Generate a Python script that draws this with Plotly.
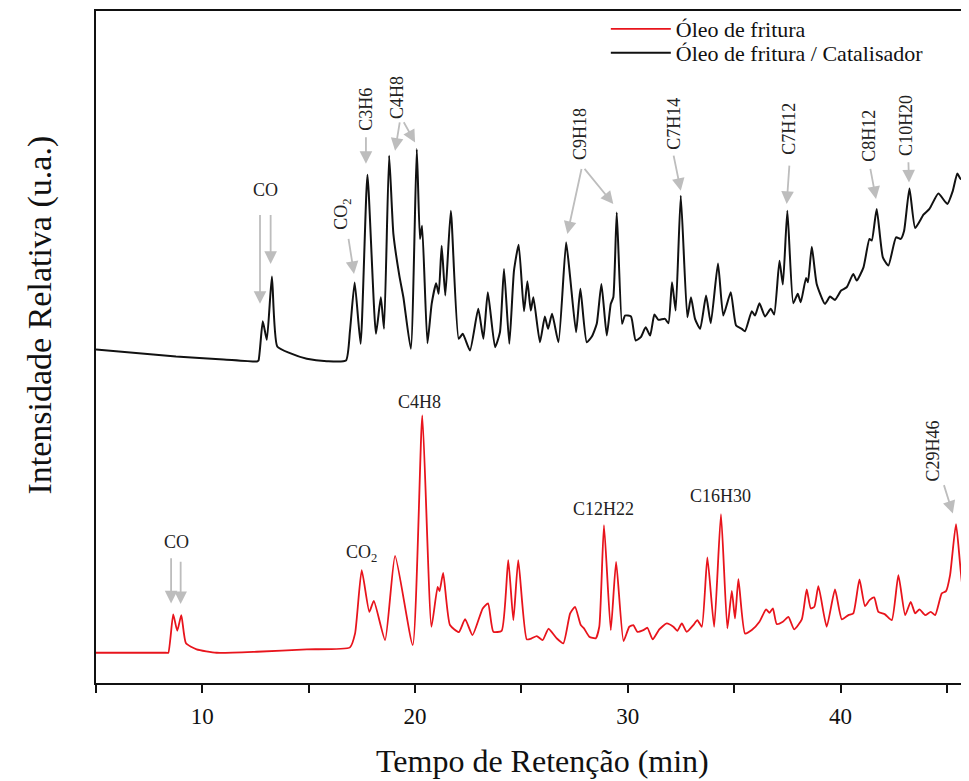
import plotly.graph_objects as go

# Retention time (min) and relative intensity (a.u.)
cat_time = [5.00, 8.76, 11.00, 12.57, 12.64, 12.84, 13.03, 13.27, 13.52, 14.12, 14.91, 15.85, 16.75, 16.94, 17.16,
            17.44, 17.76, 18.16, 18.39, 18.54, 18.78, 18.98, 19.26, 19.45, 19.80, 20.08, 20.23, 20.33, 20.58,
            20.78, 20.99, 21.11, 21.25, 21.42, 21.68, 22.05, 22.24, 22.58, 22.97, 23.21, 23.42, 23.76, 23.99,
            24.18, 24.43, 24.65, 24.87, 25.12, 25.28, 25.44, 25.56, 25.87, 26.10, 26.25, 26.44, 26.74, 27.10,
            27.29, 27.57, 27.77, 28.07, 28.31, 28.54, 28.76, 29.01, 29.20, 29.32, 29.48, 29.73, 29.87, 30.15,
            30.37, 30.61, 30.84, 31.05, 31.25, 31.44, 31.75, 31.91, 32.08, 32.25, 32.49, 32.80, 32.97, 33.16,
            33.40, 33.68, 33.90, 34.24, 34.49, 34.84, 35.09, 35.36, 35.51, 35.83, 35.98, 36.19, 36.45, 36.72,
            36.88, 37.13, 37.29, 37.50, 37.78, 37.99, 38.13, 38.38, 38.47, 38.65, 38.88, 39.27, 39.51, 39.74,
            40.03, 40.29, 40.60, 40.76, 41.08, 41.36, 41.47, 41.70, 41.99, 42.25, 42.61, 42.83, 42.99, 43.24,
            43.51, 43.90, 44.18, 44.60, 45.02, 45.28, 45.49, 45.65, 45.78, 46.04]
cat_int = [49.63, 48.59, 48.15, 47.85, 47.99, 53.83, 51.07, 60.48, 50.07, 49.08, 48.25, 47.89, 47.99, 52.45, 59.58,
           50.48, 75.63, 51.96, 57.40, 52.70, 78.46, 66.82, 60.62, 57.40, 49.73, 79.45, 66.08, 68.05, 50.57,
           56.42, 59.48, 57.91, 65.08, 57.65, 70.28, 51.22, 51.96, 49.48, 55.68, 51.22, 58.14, 49.97, 52.20,
           61.62, 50.48, 61.37, 65.23, 55.32, 59.78, 55.42, 57.40, 50.71, 54.53, 52.70, 54.93, 50.71, 65.57,
           60.37, 52.20, 58.65, 50.71, 51.56, 53.45, 59.39, 51.71, 56.42, 57.40, 70.03, 53.45, 54.68, 54.53,
           50.97, 51.46, 52.94, 51.71, 54.83, 54.04, 54.19, 53.54, 59.63, 55.42, 72.51, 54.43, 57.40, 54.19,
           52.70, 57.65, 53.54, 62.41, 54.68, 58.14, 53.20, 52.70, 52.35, 55.32, 54.68, 56.51, 54.53, 55.68,
           54.83, 62.85, 59.29, 70.28, 56.51, 57.91, 56.66, 60.28, 59.63, 64.93, 59.39, 56.42, 57.50, 57.01,
           58.40, 58.89, 60.88, 59.88, 61.86, 66.08, 65.83, 70.54, 63.34, 62.11, 66.32, 66.08, 67.31, 73.60,
           67.71, 69.69, 70.54, 72.85, 71.28, 73.25, 75.83, 74.99, 75.34, 75.14]

oil_time = [5.00, 7.00, 8.30, 8.40, 8.63, 8.82, 9.01, 9.23, 9.73, 10.67, 12.56, 14.91, 16.94, 17.18, 17.49, 17.85,
            18.06, 18.59, 19.06, 19.89, 20.34, 20.77, 21.06, 21.15, 21.32, 21.64, 22.06, 22.35, 22.70, 23.18,
            23.43, 23.68, 24.07, 24.38, 24.62, 24.85, 25.25, 25.48, 25.72, 26.00, 26.27, 26.66, 26.97, 27.29,
            27.52, 27.79, 27.94, 28.19, 28.49, 28.66, 28.88, 29.20, 29.45, 29.80, 30.07, 30.26, 30.45, 30.73,
            30.92, 31.17, 31.48, 31.83, 32.14, 32.33, 32.54, 32.77, 33.08, 33.27, 33.48, 33.74, 34.06, 34.38,
            34.68, 34.89, 35.04, 35.20, 35.51, 35.83, 36.19, 36.50, 36.66, 36.82, 37.00, 37.29, 37.55, 37.82,
            38.18, 38.41, 38.60, 38.77, 38.96, 39.35, 39.74, 40.06, 40.37, 40.60, 40.89, 41.15, 41.36, 41.58,
            41.78, 42.09, 42.41, 42.72, 43.04, 43.30, 43.51, 43.71, 43.98, 44.24, 44.45, 44.76, 44.96, 45.15,
            45.43, 45.78, 46.04]
oil_int = [4.50, 4.50, 4.50, 4.50, 10.21, 7.77, 10.10, 5.90, 5.01, 4.50, 4.65, 5.01, 5.30, 7.38, 16.79, 10.59,
           12.23, 6.39, 18.92, 5.65, 39.82, 8.37, 14.31, 13.67, 16.39, 8.62, 7.58, 9.51, 7.13, 11.10,
           11.84, 7.62, 7.77, 18.28, 9.36, 18.28, 6.49, 6.64, 6.98, 6.39, 8.07, 6.64, 5.90, 10.36,
           11.34, 8.62, 8.13, 6.88, 6.64, 8.37, 23.48, 7.88, 18.02, 6.24, 8.37, 8.62, 7.62, 7.88,
           8.22, 6.49, 7.98, 8.87, 8.37, 7.77, 8.87, 7.62, 8.62, 9.36, 8.37, 18.68, 8.37, 25.11,
           8.13, 13.71, 9.61, 15.45, 7.38, 7.88, 9.11, 10.95, 10.45, 11.10, 8.77, 9.11, 9.85, 7.98,
           9.47, 13.92, 11.10, 11.34, 14.41, 8.37, 13.92, 9.47, 10.10, 10.36, 15.41, 11.44, 12.33, 12.73,
           10.59, 10.21, 9.36, 16.05, 10.10, 12.08, 10.36, 10.95, 10.10, 10.59, 10.10, 13.33, 13.67, 16.05,
           23.63, 13.33, 12.08]

series_names = ["Óleo de fritura", "Óleo de fritura / Catalisador"]
tick_vals = [5, 10, 15, 20, 25, 30, 35, 40, 45]
tick_text = ["", "10", "", "20", "", "30", "", "40", ""]
x_title = "Tempo de Retenção (min)"
y_title = "Intensidade Relativa (u.a.)"

# Peak labels: (text, time, intensity, angle)
labels = [
    ("CO", 12.99, 73.40, 0), ("CO<sub>2</sub>", 16.61, 69.84, -90), ("C3H6", 17.69, 85.44, -90),
    ("C4H8", 19.15, 87.07, -90), ("C9H18", 27.76, 81.72, -90), ("C7H14", 32.17, 83.21, -90),
    ("C7H12", 37.58, 82.47, -90), ("C8H12", 41.34, 81.43, -90), ("C10H20", 43.08, 82.91, -90),
    ("CO", 8.79, 20.91, 0), ("CO<sub>2</sub>", 17.49, 19.27, 0), ("C4H8", 20.23, 41.80, 0),
    ("C12H22", 28.85, 25.96, 0), ("C16H30", 34.34, 27.79, 0), ("C29H46", 44.35, 34.47, -90),
]
# Arrows: (tail time, tail intensity, head time, head intensity)
arrows = [
    (12.71, 69.88, 12.71, 56.42), (13.21, 69.88, 13.21, 62.36), (16.86, 66.32, 17.13, 60.88),
    (17.69, 81.43, 17.69, 77.27), (19.29, 83.66, 19.06, 79.20), (19.43, 83.66, 20.00, 80.43),
    (27.84, 76.72, 27.16, 66.82), (27.91, 76.72, 29.32, 71.28), (32.14, 78.71, 32.49, 73.25),
    (37.60, 77.22, 37.47, 71.28), (41.39, 76.72, 41.67, 72.02), (43.19, 77.71, 43.22, 74.49),
    (8.53, 18.77, 8.53, 11.84), (8.98, 18.28, 8.98, 11.74), (44.84, 29.67, 45.28, 25.22),
]

FONT = "Liberation Serif, Times New Roman, serif"

fig = go.Figure()
fig.add_trace(go.Scatter(x=oil_time, y=oil_int, mode="lines", name=series_names[0], legend="legend",
                         line=dict(color="#e8141c", width=1.8, shape="spline", smoothing=0.5)))
fig.add_trace(go.Scatter(x=cat_time, y=cat_int, mode="lines", name=series_names[1], legend="legend2",
                         line=dict(color="#111111", width=2, shape="spline", smoothing=0.5)))

annotations = []
for t0, i0, t1, i1 in arrows:
    annotations.append(dict(x=t1, y=i1, ax=t0, ay=i0, xref="x", yref="y", axref="x", ayref="y",
                            text="", showarrow=True, arrowhead=2, arrowsize=1.4, arrowwidth=1.8,
                            arrowcolor="#bdbdbd"))
for txt, t, i, ang in labels:
    annotations.append(dict(x=t, y=i, xref="x", yref="y", text=txt, showarrow=False, textangle=ang,
                            font=dict(family=FONT, size=18, color="#222222")))
annotations.append(dict(x=0.511, y=-0.116, xref="paper", yref="paper", xanchor="center", yanchor="middle",
                        text=x_title, showarrow=False, font=dict(family=FONT, size=32, color="#111111")))
annotations.append(dict(x=-0.064, y=0.547, xref="paper", yref="paper", xanchor="center", yanchor="middle",
                        text=y_title, showarrow=False, textangle=-90,
                        font=dict(family=FONT, size=34, color="#111111")))

legend_common = dict(xanchor="left", yanchor="middle", bgcolor="rgba(0,0,0,0)",
                     font=dict(family=FONT, size=22, color="#111111"), itemwidth=60)
fig.update_layout(
    width=961, height=773,
    margin=dict(l=88, r=0, t=2, b=98),
    paper_bgcolor="white", plot_bgcolor="white",
    font=dict(family=FONT, color="#111111"),
    showlegend=True,
    legend=dict(x=0.584, y=0.9733, **legend_common),
    legend2=dict(x=0.584, y=0.9361, **legend_common),
    annotations=annotations,
)
fig.update_xaxes(range=[5, 46.04], tickmode="array", tickvals=tick_vals, ticktext=tick_text,
                 ticks="outside", ticklen=8, tickwidth=1.5, tickcolor="#111111", ticklabelstandoff=3,
                 showline=True, linecolor="#111111", linewidth=1.8, mirror=True, showgrid=False,
                 zeroline=False, automargin=False, tickfont=dict(family=FONT, size=23, color="#111111"))
fig.update_yaxes(range=[0, 100], showticklabels=False, ticks="", showline=True, linecolor="#111111",
                 linewidth=1.8, mirror=False, showgrid=False, zeroline=False, automargin=False)

fig.write_html("out.html")
